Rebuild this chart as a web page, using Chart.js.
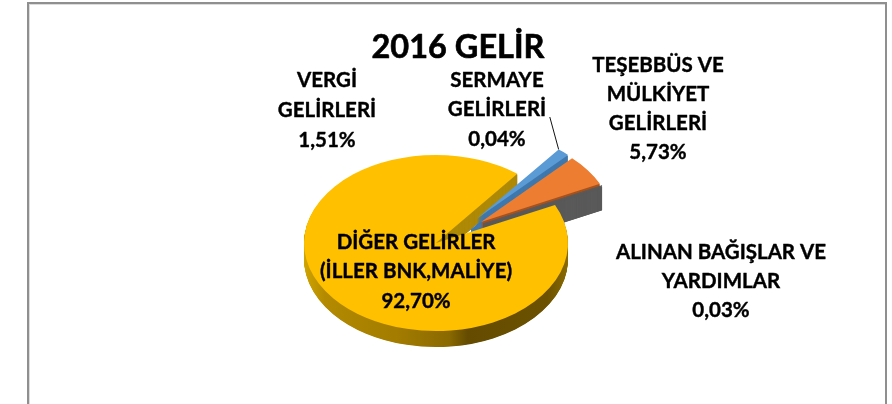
<!DOCTYPE html>
<html><head><meta charset="utf-8">
<script src="https://cdn.jsdelivr.net/npm/chart.js@4"></script>
<style>
html,body{margin:0;padding:0;background:#fff;overflow:hidden}
#wrap{position:relative;width:892px;height:404px}
#frame{position:absolute;left:27px;top:2px;width:860px;height:402px;border:solid #8f8f8f;border-width:2px 2px 0 2px;box-sizing:border-box;box-shadow:inset 1px 1px 0 #dcdcdc}
canvas{position:absolute;left:0;top:0}
</style></head><body>
<div id="wrap"><div id="frame"></div><canvas id="c" width="892" height="404"></canvas></div>
<script>
const titleText = '2016 GELİR';
const categories = ['VERGİ GELİRLERİ','TEŞEBBÜS VE MÜLKİYET GELİRLERİ','ALINAN BAĞIŞLAR VE YARDIMLAR','DİĞER GELİRLER (İLLER BNK,MALİYE)','SERMAYE GELİRLERİ'];
const values = [1.51, 5.73, 0.03, 92.70, 0.04];
const topColors = ['#5B9BD5','#ED7D31','#A5A5A5','#FFC000','#4472C4'];
const wallColors = ['#3f78ad','#a9521c','#595959',null,'#3f78ad'];
const shiftX = [41,45,47,0,35];
const shiftY = [-24.4,-21,-19,0,-14];
const depth = [7,6,24,16,13];
const labelLines = [
  {lines:['VERGİ','GELİRLERİ','1,51%'],x:327,y:[80,110,140]},
  {lines:['TEŞEBBÜS VE','MÜLKİYET','GELİRLERİ','5,73%'],x:658,y:[65,94,123,152]},
  {lines:['ALINAN BAĞIŞLAR VE','YARDIMLAR','0,03%'],x:721,y:[252,281,310]},
  {lines:['DİĞER GELİRLER','(İLLER BNK,MALİYE)','92,70%'],x:416,y:[242,271,301]},
  {lines:['SERMAYE','GELİRLERİ','0,04%'],x:497,y:[80,109,139]}
];
const squash = 0.667;
const fontFamily = 'Lato, Carlito, sans-serif';

const pie3d = {
  id:'pie3d',
  beforeDatasetsDraw(chart){
    const ctx = chart.ctx, arcs = chart.getDatasetMeta(0).data;
    const cx = arcs[0].x, cy = arcs[0].y, R = arcs[0].outerRadius;
    const grad = ctx.createLinearGradient(cx-R,0,cx+R,0);
    grad.addColorStop(0,'#d0a400');
    grad.addColorStop(0.08,'#b38a00');
    grad.addColorStop(0.35,'#a37c00');
    grad.addColorStop(0.55,'#8a6900');
    grad.addColorStop(0.62,'#644b00');
    grad.addColorStop(0.92,'#6b5100');
    grad.addColorStop(1,'#8a6a00');
    const paint = (i,d,color,line)=>{
      const a = arcs[i];
      ctx.save();
      ctx.translate(cx+shiftX[i], cy+shiftY[i]+d);
      ctx.scale(1,squash);
      ctx.translate(-cx,-cy);
      const view = Object.create(a,{options:{value:Object.assign({},a.options,{
        backgroundColor:color,borderColor:color,borderWidth:line?1:0,offset:0,spacing:0})}});
      a.draw.call(view,ctx);
      ctx.restore();
    };
    const wall = (i,thin,color)=>{
      for(let d=depth[i];d>=1;d-=0.5) paint(i,d,color||wallColors[i],thin);
    };
    wall(3,false,grad);
    ctx.save();
    ctx.beginPath();ctx.rect(cx-R,cy-R,R+94,R);ctx.clip();
    wall(3,false,'#ae8a08');
    ctx.restore();
    wall(4,true);
    wall(1,false);
    wall(2,true);
    paint(2,0,wallColors[2],true);
    paint(3,0,topColors[3],false);
    wall(0,false);
    paint(4,0,topColors[4],false);
    paint(0,0,topColors[0],false);
    paint(1,0,topColors[1],false);
    return false;
  },
  afterDraw(chart){
    const ctx = chart.ctx, a = chart.getDatasetMeta(0).data[0];
    const R = a.outerRadius;
    const tipX = a.x + shiftX[0] + Math.cos(a.startAngle)*R;
    const tipY = a.y + shiftY[0] + Math.sin(a.startAngle)*R*squash;
    ctx.save();
    ctx.strokeStyle='#111';ctx.lineWidth=1;
    ctx.beginPath();ctx.moveTo(549.8,117);ctx.lineTo(tipX,tipY);ctx.stroke();
    ctx.fillStyle='#000';ctx.strokeStyle='#000';ctx.textAlign='center';ctx.textBaseline='middle';
    ctx.lineJoin='round';
    ctx.font='bold 32.5px '+fontFamily;
    ctx.lineWidth=0.6;
    ctx.fillText(titleText,458,48);ctx.strokeText(titleText,458,48);
    ctx.font='bold 20.5px '+fontFamily;
    ctx.lineWidth=0.4;
    labelLines.forEach(l=>l.lines.forEach((t,k)=>{ctx.fillText(t,l.x,l.y[k]);ctx.strokeText(t,l.x,l.y[k]);}));
    ctx.restore();
  }
};

new Chart(document.getElementById('c'),{
  type:'pie',
  data:{labels:categories,datasets:[{data:values,backgroundColor:topColors,borderWidth:0}]},
  options:{
    responsive:false,animation:false,rotation:38.2,radius:132,
    layout:{padding:{left:0,right:20,top:82,bottom:0}},
    plugins:{legend:{display:false},tooltip:{enabled:false},title:{display:false}}
  },
  plugins:[pie3d]
});
</script></body></html>
